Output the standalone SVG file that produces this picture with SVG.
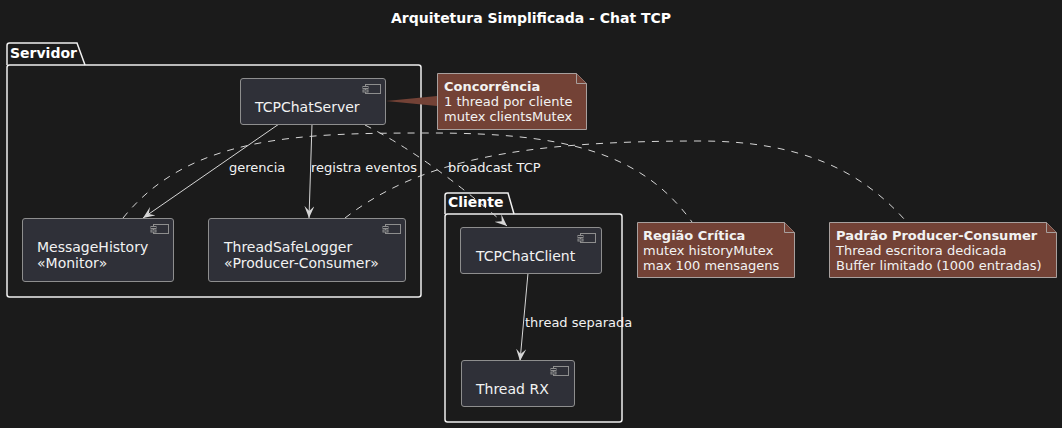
<svg xmlns="http://www.w3.org/2000/svg" width="1062" height="428" viewBox="0 0 1062 428">
<defs>
<style>
text{font-family:"DejaVu Sans","Noto Sans",sans-serif;fill:#ffffff}
.title{font-size:14px;font-weight:bold}
.pkg{font-size:14px;font-weight:bold}
.pkgshape{fill:none;stroke:#f0f0f0;stroke-width:1.5}
.comp{fill:#2f3038;stroke:#8e8e8e;stroke-width:1}
.ctext{font-size:14px;fill:#f2f2f2}
.icon{fill:none;stroke:#8e8e8e;stroke-width:1}
.iconb{fill:#2f3038;stroke:#8e8e8e;stroke-width:1}
.lbl{font-size:13px;fill:#f2f2f2}
.edge{fill:none;stroke:#d6d6d6;stroke-width:1}
.dash{fill:none;stroke:#d6d6d6;stroke-width:1;stroke-dasharray:7,7}
.note{fill:#734236;stroke:#a8a09e;stroke-width:1}
.ntext{font-size:13px;fill:#f2f2f2}
.nb{font-weight:bold}
</style>
<marker id="arr" viewBox="0 0 12 10" refX="12" refY="5" markerWidth="12" markerHeight="10" markerUnits="userSpaceOnUse" orient="auto">
<path d="M0,0 L12,5 L0,10 L5,5 Z" fill="#d6d6d6"/>
</marker>
</defs>
<rect width="1062" height="428" fill="#1b1b1b"/>
<text class="title" x="531" y="23" text-anchor="middle">Arquitetura Simplificada - Chat TCP</text>

<g id="pkg-servidor">
<path class="pkgshape" d="M7,65 L7,45.5 Q7,43 9.5,43 L77,43 L85,65"/>
<rect class="pkgshape" x="7" y="65" width="414" height="232" rx="2.5"/>
<text class="pkg" x="10" y="58">Servidor</text>
</g>

<g id="pkg-cliente">
<path class="pkgshape" d="M445,214 L445,195.5 Q445,193 447.5,193 L508,193 L514,214"/>
<rect class="pkgshape" x="445" y="214" width="177" height="208" rx="2.5"/>
<text class="pkg" x="448" y="207">Cliente</text>
</g>

<g id="connectors">
<path class="edge" d="M279,124 L143,218" marker-end="url(#arr)"/>
<text class="lbl" x="229" y="172">gerencia</text>
<path class="edge" d="M312,124 L309,218" marker-end="url(#arr)"/>
<text class="lbl" x="311" y="172">registra eventos</text>
<path class="dash" d="M365,125 Q430,158 507,226" marker-end="url(#arr)"/>
<text class="lbl" x="448" y="172">broadcast TCP</text>
<path class="edge" d="M528,273 L520,361" marker-end="url(#arr)"/>
<text class="lbl" x="525" y="327">thread separada</text>
<path class="dash" d="M123,218 C190,135 300,133 430,133 C560,133 640,150 692,222"/>
<path class="dash" d="M345,218 C420,160 520,141 700,141 C800,141 860,170 905,220"/>
<polygon points="386,101 437,96 437,106" fill="#734236"/>
</g>

<g id="TCPChatServer">
<rect class="comp" x="240.5" y="78.5" width="145" height="46" rx="2.5"/>
<rect class="iconb" x="365.5" y="84.5" width="15" height="9"/>
<rect class="iconb" x="363" y="86.5" width="5" height="2"/>
<rect class="iconb" x="363" y="90" width="5" height="2"/>
<text class="ctext" x="255" y="112">TCPChatServer</text>
</g>

<g id="MessageHistory">
<rect class="comp" x="22.5" y="218.5" width="151" height="63" rx="2.5"/>
<rect class="iconb" x="153.5" y="224.5" width="15" height="9"/>
<rect class="iconb" x="151" y="226.5" width="5" height="2"/>
<rect class="iconb" x="151" y="230" width="5" height="2"/>
<text class="ctext" x="37" y="252">MessageHistory</text>
<text class="ctext" x="37" y="268">«Monitor»</text>
</g>

<g id="ThreadSafeLogger">
<rect class="comp" x="208.5" y="218.5" width="197" height="63" rx="2.5"/>
<rect class="iconb" x="385.5" y="224.5" width="15" height="9"/>
<rect class="iconb" x="383" y="226.5" width="5" height="2"/>
<rect class="iconb" x="383" y="230" width="5" height="2"/>
<text class="ctext" x="224" y="252">ThreadSafeLogger</text>
<text class="ctext" x="224" y="268">«Producer-Consumer»</text>
</g>

<g id="TCPChatClient">
<rect class="comp" x="460.5" y="227.5" width="141" height="46" rx="2.5"/>
<rect class="iconb" x="580.5" y="233.5" width="15" height="9"/>
<rect class="iconb" x="578" y="235.5" width="5" height="2"/>
<rect class="iconb" x="578" y="239" width="5" height="2"/>
<text class="ctext" x="476" y="261">TCPChatClient</text>
</g>

<g id="ThreadRX">
<rect class="comp" x="461.5" y="360.5" width="113" height="46" rx="2.5"/>
<rect class="iconb" x="553.5" y="366.5" width="15" height="9"/>
<rect class="iconb" x="551" y="368.5" width="5" height="2"/>
<rect class="iconb" x="551" y="372" width="5" height="2"/>
<text class="ctext" x="476" y="394">Thread RX</text>
</g>

<g id="note-concorrencia">
<path class="note" d="M437.5,73.5 L576.5,73.5 L586.5,83.5 L586.5,129.5 L437.5,129.5 Z"/>
<path class="note" d="M576.5,73.5 L576.5,83.5 L586.5,83.5" fill="none"/>
<text class="ntext nb" x="444" y="91">Concorrência</text>
<text class="ntext" x="444" y="106">1 thread por cliente</text>
<text class="ntext" x="444" y="121">mutex clientsMutex</text>
</g>

<g id="note-regiao">
<path class="note" d="M637.5,222.5 L784.5,222.5 L794.5,232.5 L794.5,277.5 L637.5,277.5 Z"/>
<path class="note" d="M784.5,222.5 L784.5,232.5 L794.5,232.5" fill="none"/>
<text class="ntext nb" x="643" y="240">Região Crítica</text>
<text class="ntext" x="643" y="255">mutex historyMutex</text>
<text class="ntext" x="643" y="270">max 100 mensagens</text>
</g>

<g id="note-padrao">
<path class="note" d="M829.5,222.5 L1046.5,222.5 L1056.5,232.5 L1056.5,277.5 L829.5,277.5 Z"/>
<path class="note" d="M1046.5,222.5 L1046.5,232.5 L1056.5,232.5" fill="none"/>
<text class="ntext nb" x="836" y="240">Padrão Producer-Consumer</text>
<text class="ntext" x="836" y="255">Thread escritora dedicada</text>
<text class="ntext" x="836" y="270">Buffer limitado (1000 entradas)</text>
</g>
</svg>
